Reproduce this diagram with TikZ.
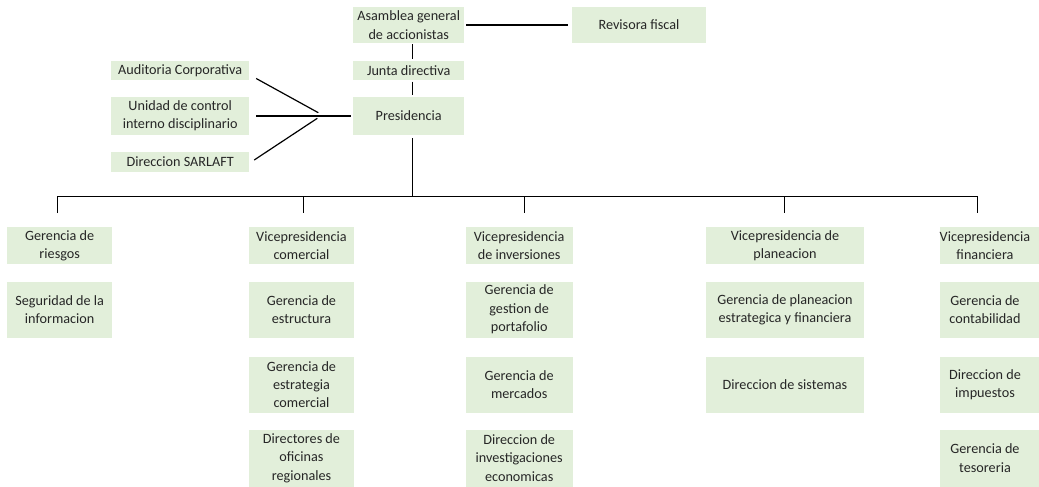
\documentclass[tikz,border=0pt]{standalone}
\usepackage{fontspec}
\setmainfont{Carlito}
\definecolor{boxgreen}{HTML}{E2EFDA}
\begin{document}
\begin{tikzpicture}[x=1pt,y=-1pt,
  box/.style={fill=boxgreen, draw=none, inner sep=0pt, align=center,
    font=\fontsize{14.2pt}{18.3pt}\selectfont, text=black!85},
  conn/.style={draw=black, line width=1.2pt}]
\useasboundingbox (0,0) rectangle (1039,487);
% top
\node[box, minimum width=110.7pt, minimum height=35.4pt] (asamblea) at (408.7,25) {Asamblea general\\de accionistas};
\node[box, minimum width=134pt, minimum height=35.5pt] (revisora) at (639,25) {Revisora fiscal};
\node[box, minimum width=110.7pt, minimum height=19.3pt] (junta) at (408.7,70.3) {Junta directiva};
\node[box, minimum width=110.7pt, minimum height=38pt] (presidencia) at (408.7,116) {Presidencia};
\node[box, minimum width=138.4pt, minimum height=19pt] (auditoria) at (180.2,70.5) {Auditoria Corporativa};
\node[box, minimum width=138.4pt, minimum height=38pt] (unidad) at (180.2,116) {Unidad de control\\interno disciplinario};
\node[box, minimum width=138.4pt, minimum height=20pt] (sarlaft) at (180.2,162) {Direccion SARLAFT};
% column 1
\node[box, minimum width=104.7pt, minimum height=37pt] (riesgos) at (59.7,245.5) {Gerencia de\\riesgos};
\node[box, minimum width=104.7pt, minimum height=56pt] (seguridad) at (59.7,309.5) {Seguridad de la\\informacion};
% column 2
\node[box, minimum width=105pt, minimum height=37pt] (vcom) at (301.5,245.5) {Vicepresidencia\\comercial};
\node[box, minimum width=105pt, minimum height=56pt] (estructura) at (301.5,309.5) {Gerencia de\\estructura};
\node[box, minimum width=105pt, minimum height=56pt] (estrategia) at (301.5,384.5) {Gerencia de\\estrategia\\comercial};
\node[box, minimum width=105pt, minimum height=57pt] (directores) at (301.5,458) {Directores de\\oficinas\\regionales};
% column 3
\node[box, minimum width=107pt, minimum height=37pt] (vinv) at (519.2,245.5) {Vicepresidencia\\de inversiones};
\node[box, minimum width=107pt, minimum height=56pt] (portafolio) at (519.2,309.5) {Gerencia de\\gestion de\\portafolio};
\node[box, minimum width=107pt, minimum height=56pt] (mercados) at (519.2,384.5) {Gerencia de\\mercados};
\node[box, minimum width=107pt, minimum height=57pt] (investigaciones) at (519.2,458) {Direccion de\\investigaciones\\economicas};
% column 4
\node[box, minimum width=158.6pt, minimum height=37pt] (vplan) at (785,245.5) {Vicepresidencia de\\planeacion};
\node[box, minimum width=158.6pt, minimum height=56pt] (gplan) at (785,309.5) {Gerencia de planeacion\\estrategica y financiera};
\node[box, minimum width=158.6pt, minimum height=56pt] (sistemas) at (785,384.5) {Direccion de sistemas};
% column 5
\node[box, minimum width=99pt, minimum height=37pt] (vfin) at (989.5,245.5) {Vicepresidencia\hspace*{9pt}\\financiera\hspace*{9pt}};
\node[box, minimum width=99pt, minimum height=56pt] (contabilidad) at (989.5,309.5) {Gerencia de\hspace*{9pt}\\contabilidad\hspace*{9pt}};
\node[box, minimum width=99pt, minimum height=56pt] (impuestos) at (989.5,384.5) {Direccion de\hspace*{9pt}\\impuestos\hspace*{9pt}};
\node[box, minimum width=99pt, minimum height=57pt] (tesoreria) at (989.5,458) {Gerencia de\hspace*{9pt}\\tesoreria\hspace*{9pt}};
% top connectors
\draw[conn, shorten <=2pt, shorten >=4pt] (asamblea) -- (revisora);
\draw[conn, shorten <=1.5pt, shorten >=1.5pt] ([xshift=3.8pt]asamblea.south) -- ([xshift=3.8pt]junta.north);
\draw[conn, shorten <=1.5pt, shorten >=1.5pt] ([xshift=3.8pt]junta.south) -- ([xshift=3.8pt]presidencia.north);
% left connectors
\coordinate (ja) at (318.3,112.7);
\coordinate (js) at (317.3,118.3);
\draw[conn] ([shift={(6.6,-1.7)}]auditoria.south east) -- (ja);
\draw[conn, shorten <=6.6pt, shorten >=2.3pt] (unidad) -- (presidencia);
\draw[conn] ([shift={(4.6,-2)}]sarlaft.east) -- (js);
% bus
\coordinate (hub) at (412.5,196.5);
\coordinate (b1) at (57.5,196.5);
\coordinate (b2) at (303.5,196.5);
\coordinate (b3) at (524.5,196.5);
\coordinate (b4) at (784.5,196.5);
\coordinate (b5) at (977.5,196.5);
\coordinate (d1) at (57.5,213);
\coordinate (d2) at (303.5,213);
\coordinate (d3) at (524.5,213);
\coordinate (d4) at (784.5,213);
\coordinate (d5) at (977.5,213);
\draw[conn, shorten <=3pt] ([xshift=3.8pt]presidencia.south) -- (hub);
\draw[conn, line join=miter] (d1) -- (b1) -- (b5) -- (d5);
\draw[conn] (b2) -- (d2);
\draw[conn] (b3) -- (d3);
\draw[conn] (b4) -- (d4);
\end{tikzpicture}
\end{document}
